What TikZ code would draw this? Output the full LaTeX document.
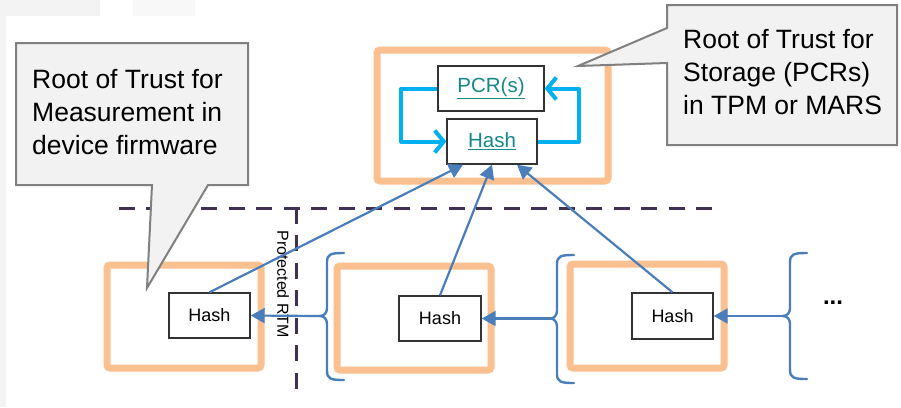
\documentclass[tikz,border=0pt]{standalone}
\usepackage{fontspec}
\setmainfont{Liberation Sans}
\usetikzlibrary{arrows.meta}

\definecolor{trustorange}{RGB}{250,192,144}
\definecolor{linkteal}{RGB}{22,136,136}
\definecolor{loopcyan}{RGB}{0,176,240}
\definecolor{flowblue}{RGB}{74,126,187}
\definecolor{bordergrey}{RGB}{128,128,128}
\definecolor{calloutfill}{RGB}{242,242,242}
\definecolor{fenceviolet}{RGB}{64,49,82}
\definecolor{edgegrey}{RGB}{243,243,243}

% open brace: #1 x of spine, #2 top, #3 tip height, #4 bottom
\newcommand{\drawopenbrace}[4]{%
  \draw[brace line] (#1+17,#2) .. controls (#1+4,#2) and (#1,#2+1) .. (#1,#2+9)
    -- (#1,#3-8) .. controls (#1,#3-3) and (#1-3,#3) .. (#1-7,#3)
    .. controls (#1-3,#3) and (#1,#3+3) .. (#1,#3+8)
    -- (#1,#4-9) .. controls (#1,#4-1) and (#1+4,#4) .. (#1+17,#4);}

\tikzset{
  stage frame/.style={draw=trustorange, line width=7pt, rounded corners=3pt},
  hashbox/.style={draw=black!80, line width=1.4pt, fill=white, inner sep=0pt,
    font=\fontsize{18}{20}\selectfont},
  tpmbox/.style={draw=black!80, line width=1.4pt, fill=white, inner sep=0pt,
    font=\fontsize{20.5}{24}\selectfont, text=linkteal},
  fence/.style={draw=fenceviolet, line width=3pt, dash pattern=on 16pt off 11.48pt},
  loop arrow/.style={draw=loopcyan, line width=4pt, line join=round,
    -{Straight Barb[length=9pt,width=22pt]}},
  flow arrow/.style={draw=flowblue, line width=2.2pt,
    -{Triangle[length=14pt,width=15pt]}},
  brace line/.style={draw=flowblue, line width=2.4pt, line cap=round},
  callout/.style={fill=calloutfill, draw=bordergrey, line width=2pt, line join=miter},
  callout text/.style={inner sep=0pt, align=left, anchor=north west,
    font=\fontsize{26.5}{33}\selectfont},
}

\begin{document}
\begin{tikzpicture}[x=1pt, y=-1pt]
\useasboundingbox[fill=white] (0,0) rectangle (901,407);

% faint page edges
\fill[edgegrey] (0,0) rectangle (6,407);
\fill[edgegrey] (0,0) rectangle (100,16);
\fill[edgegrey!60] (133,0) rectangle (195,16);

% protection boundary
\draw[fence] (119,208) -- (712,208);
\draw[fence] (296,208) -- (296,392);
\node[rotate=-90, font=\fontsize{16}{18}\selectfont] (rtm) at (283,284) {Protected RTM};

% stage frames
\draw[stage frame] (377,50) rectangle (608,181);
\draw[stage frame] (107,265) rectangle (261,368);
\draw[stage frame] (337,266) rectangle (491,370);
\draw[stage frame] (570,264) rectangle (724,368);

% TPM / MARS contents
\node[tpmbox, minimum width=106pt, minimum height=45pt] (pcr) at (491,88.5)
  {\underline{PCR(s)}\hspace{4pt}};
\node[tpmbox, minimum width=90pt, minimum height=45pt] (hashtop) at (492,141.5)
  {\underline{Hash}\hspace{8pt}};
\draw[loop arrow] (pcr.west) -- ++(-36,0) |- (hashtop.west);
\draw[loop arrow] (hashtop.east) -- ++(41,0) |- (pcr.east);

% measurement chain
\node[hashbox, minimum width=81pt, minimum height=45pt] (h1) at (209.5,315.5) {Hash\hspace{9pt}};
\node[hashbox, minimum width=82pt, minimum height=45pt] (h2) at (440,318.5) {Hash\hspace{9pt}};
\node[hashbox, minimum width=81pt, minimum height=46pt] (h3) at (672.5,316) {Hash\hspace{9pt}};

\drawopenbrace{327}{253}{316}{380}
\drawopenbrace{557}{255}{318.5}{383}
\drawopenbrace{790}{253}{316}{379}
\coordinate (tip2) at (320,316);
\coordinate (tip3) at (550,318.5);
\coordinate (tip4) at (783,316);

\draw[flow arrow] (tip2) -- (h1.east);
\draw[flow arrow] (tip3) -- (h2.east);
\draw[flow arrow] (tip4) -- (h3.east);

\node[font=\fontsize{24}{28}\selectfont\bfseries] (more) at (833,303) {...};

\draw[flow arrow] (h1.north) -- ([xshift=-29pt]hashtop.south);
\draw[flow arrow] (h2.north) -- (hashtop.south);
\draw[flow arrow] (h3.north) -- ([xshift=25pt]hashtop.south);

% callouts
\draw[callout] (16,43) -- (248,43) -- (248,185) -- (208,185) -- (147,288)
  -- (152,185) -- (16,185) -- cycle;
\node[callout text] (rtmtext) at (32,69)
  {Root of Trust for\\Measurement in\\device firmware};

\draw[callout] (667,5) -- (897,5) -- (897,145) -- (667,145) -- (667,63)
  -- (578,66) -- (667,28) -- cycle;
\node[callout text] (rtstext) at (683,29)
  {Root of Trust for\\Storage (PCRs)\\in TPM or MARS};
\end{tikzpicture}
\end{document}
